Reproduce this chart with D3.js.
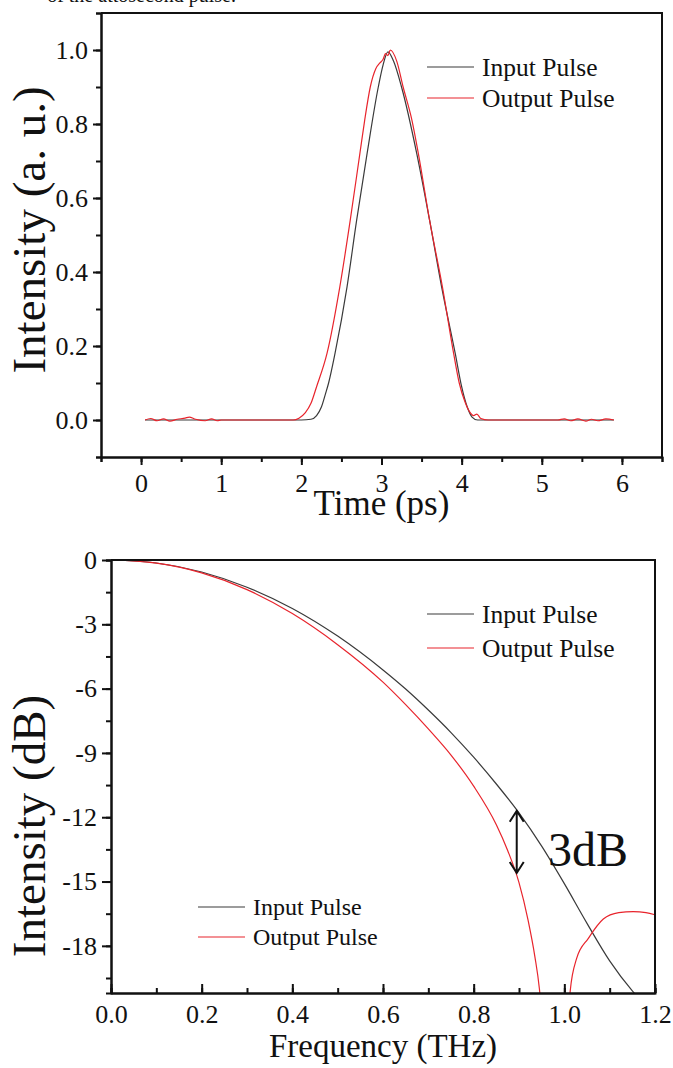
<!DOCTYPE html>
<html>
<head>
<meta charset="utf-8">
<script src="https://cdn.jsdelivr.net/npm/d3@7"></script>
<style>
  body { margin: 0; background: #fff; }
  svg text { font-family: "Liberation Serif", "Times New Roman", serif; fill: #111; }
</style>
</head>
<body>
<svg id="chart" width="673" height="1068"></svg>
<script>
// ---- top panel: pulses in time ----
const timeIn = [0.05, 1.0, 2.0, 2.12, 2.19, 2.25, 2.30, 2.34, 2.42, 2.57, 2.69, 2.82, 2.96, 3.02, 3.08, 3.15, 3.25, 3.44, 3.60, 3.75, 3.92, 4.0, 4.07, 4.13, 4.2, 5.0, 5.9];
const inputPulse = [0, 0, 0, 0.002, 0.012, 0.035, 0.07, 0.1, 0.18, 0.36, 0.54, 0.72, 0.90, 0.96, 0.995, 0.97, 0.90, 0.72, 0.54, 0.36, 0.18, 0.09, 0.035, 0.008, 0, 0, 0];
const timeOut = [0.05, 0.12, 0.2, 0.28, 0.36, 0.45, 0.55, 0.6, 0.68, 0.8, 0.88, 0.95, 1.0, 1.9, 1.97, 2.05, 2.12, 2.19, 2.32, 2.48, 2.61, 2.73, 2.79, 2.86, 2.93, 2.98, 3.02, 3.05, 3.08, 3.11, 3.19, 3.27, 3.38, 3.46, 3.60, 3.76, 3.90, 3.97, 4.04, 4.1, 4.15, 4.19, 4.24, 4.33, 5.2, 5.28, 5.36, 5.45, 5.55, 5.62, 5.7, 5.8, 5.9];
const outputPulse = [0, 0.004, -0.002, 0.003, -0.003, 0.002, 0.005, 0.008, 0.002, -0.002, 0.003, -0.002, 0, 0, 0.005, 0.02, 0.045, 0.09, 0.18, 0.36, 0.54, 0.72, 0.81, 0.90, 0.95, 0.965, 0.975, 0.99, 0.985, 1.0, 0.97, 0.90, 0.81, 0.72, 0.54, 0.36, 0.18, 0.1, 0.05, 0.022, 0.012, 0.016, 0.004, 0, 0, 0.003, -0.002, 0.003, -0.003, 0.002, -0.002, 0.003, 0];
const timeTicks = [0, 1, 2, 3, 4, 5, 6];
const intensityTicks = [0, 0.2, 0.4, 0.6, 0.8, 1.0];

// ---- bottom panel: spectra in dB ----
const freqIn = [0, 0.1, 0.2, 0.3, 0.4, 0.5, 0.6, 0.65, 0.7, 0.75, 0.8, 0.85, 0.9, 0.95, 1.0, 1.05, 1.1, 1.15, 1.2];
const inputDb = [0, -0.14, -0.56, -1.27, -2.26, -3.55, -5.13, -6.02, -7.0, -8.05, -9.2, -10.45, -11.8, -13.35, -15.1, -16.95, -18.7, -20.1, -21.2];
const freqOut = [0, 0.1, 0.2, 0.3, 0.4, 0.5, 0.6, 0.65, 0.7, 0.75, 0.8, 0.85, 0.875, 0.9, 0.92, 0.935, 0.945, 0.952, null, 1.005, 1.013, 1.027, 1.053, 1.086, 1.12, 1.152, 1.18, 1.2];
const outputDb = [0, -0.15, -0.6, -1.38, -2.5, -3.95, -5.7, -6.75, -7.88, -9.1, -10.55, -12.35, -13.55, -15.05, -16.8, -18.5, -20.0, -21.7, null, -23, -20.1, -18.6, -17.65, -16.75, -16.45, -16.4, -16.45, -16.55];
const freqTicks = [0, 0.2, 0.4, 0.6, 0.8, 1.0, 1.2];
const dbTicks = [0, -3, -6, -9, -12, -15, -18];
const arrowDb = [-11.7, -14.6];   // the 3 dB gap at 0.895 THz
const arrowFreq = 0.895;

const legendLabels = ['Input Pulse', 'Output Pulse'];
const colors = ['#3a3a3a', '#e8242c'];
const serif = '"Liberation Serif", "Times New Roman", serif';

const svg = d3.select('#chart');

// clipped caption line from the page above the figure
svg.append('text').attr('x', 236).attr('y', 2).attr('text-anchor', 'end')
  .attr('font-size', 20).text('of the attosecond pulse.');

function drawFrame(x, y) {
  const [x0, x1] = x.range(), [y0, y1] = y.range();
  svg.append('path')
    .attr('d', `M${x0},${y1}H${x1}V${y0}`)
    .attr('fill', 'none').attr('stroke', '#111').attr('stroke-width', 2);
}

function legend(x0, y0, gap, size) {
  legendLabels.forEach((lab, i) => {
    svg.append('line')
      .attr('x1', x0).attr('x2', x0 + 47)
      .attr('y1', y0 + i * gap).attr('y2', y0 + i * gap)
      .attr('stroke', colors[i]).attr('stroke-width', 1.2);
    svg.append('text')
      .attr('x', x0 + 55).attr('y', y0 + i * gap + size * 0.34)
      .attr('font-size', size).text(lab);
  });
}

function styleAxis(g) {
  g.attr('font-family', null);
  g.select('.domain').attr('stroke', '#111').attr('stroke-width', 2);
  g.selectAll('.tick line').attr('stroke', '#111').attr('stroke-width', 2);
  g.selectAll('text').style('font-family', serif).style('font-size', '26px').attr('fill', '#111');
}

const fmtPlain = d => String(d);   // keep ASCII hyphen like the original

// ================= top panel =================
const xT = d3.scaleLinear().domain([-0.5, 6.5]).range([101, 662]);
const yT = d3.scaleLinear().domain([-0.1, 1.1]).range([457, 13]);

drawFrame(xT, yT);

svg.append('g').attr('transform', `translate(0,${yT.range()[0]})`)
  .call(d3.axisBottom(xT).tickValues(d3.range(-0.5, 6.51, 0.5)).tickSize(5).tickFormat(''))
  .call(styleAxis);
svg.append('g').attr('transform', `translate(0,${yT.range()[0]})`)
  .call(d3.axisBottom(xT).tickValues(timeTicks).tickSizeInner(8).tickSizeOuter(0).tickPadding(9).tickFormat(fmtPlain))
  .call(styleAxis);

svg.append('g').attr('transform', `translate(${xT.range()[0]},0)`)
  .call(d3.axisLeft(yT).tickValues(d3.range(-0.1, 1.11, 0.1)).tickSize(5).tickFormat(''))
  .call(styleAxis);
svg.append('g').attr('transform', `translate(${xT.range()[0]},0)`)
  .call(d3.axisLeft(yT).tickValues(intensityTicks).tickSizeInner(8).tickSizeOuter(0).tickPadding(5).tickFormat(d3.format('.1f')))
  .call(styleAxis);

const lineT = d3.line().curve(d3.curveMonotoneX).x(d => xT(d[0])).y(d => yT(d[1]));
svg.append('path').datum(d3.zip(timeIn, inputPulse))
  .attr('d', lineT).attr('fill', 'none').attr('stroke', colors[0]).attr('stroke-width', 1.2);
svg.append('path').datum(d3.zip(timeOut, outputPulse))
  .attr('d', lineT).attr('fill', 'none').attr('stroke', colors[1]).attr('stroke-width', 1.2);

svg.append('text').attr('x', (xT.range()[0] + xT.range()[1]) / 2).attr('y', 515)
  .attr('text-anchor', 'middle').attr('font-size', 35).text('Time (ps)');
svg.append('text').attr('transform', `translate(45,230) rotate(-90)`)
  .attr('text-anchor', 'middle').attr('font-size', 47).text('Intensity (a. u.)');

legend(427, 67, 31, 25.5);

// ================= bottom panel =================
const xB = d3.scaleLinear().domain([0, 1.2]).range([111, 655]);
const yB = d3.scaleLinear().domain([-20.2, 0]).range([993, 560]);

svg.append('defs').append('clipPath').attr('id', 'clipB')
  .append('rect').attr('x', xB.range()[0]).attr('y', yB.range()[1])
  .attr('width', xB.range()[1] - xB.range()[0]).attr('height', yB.range()[0] - yB.range()[1]);

const lineB = d3.line().curve(d3.curveMonotoneX)
  .defined(d => d[0] !== null)
  .x(d => xB(d[0])).y(d => yB(d[1]));
svg.append('path').datum(d3.zip(freqIn, inputDb)).attr('clip-path', 'url(#clipB)')
  .attr('d', lineB).attr('fill', 'none').attr('stroke', colors[0]).attr('stroke-width', 1.2);
svg.append('path').datum(d3.zip(freqOut, outputDb)).attr('clip-path', 'url(#clipB)')
  .attr('d', lineB).attr('fill', 'none').attr('stroke', colors[1]).attr('stroke-width', 1.2);

drawFrame(xB, yB);

svg.append('g').attr('transform', `translate(0,${yB.range()[0]})`)
  .call(d3.axisBottom(xB).tickValues(d3.range(0, 1.21, 0.1)).tickSize(-5).tickFormat(''))
  .call(styleAxis);
svg.append('g').attr('transform', `translate(0,${yB.range()[0]})`)
  .call(d3.axisBottom(xB).tickValues(freqTicks).tickSizeInner(-9).tickSizeOuter(0).tickPadding(12).tickFormat(d3.format('.1f')))
  .call(styleAxis);

svg.append('g').attr('transform', `translate(${xB.range()[0]},0)`)
  .call(d3.axisLeft(yB).tickValues(d3.range(0, -20.1, -1.5)).tickSize(5).tickFormat(''))
  .call(styleAxis);
svg.append('g').attr('transform', `translate(${xB.range()[0]},0)`)
  .call(d3.axisLeft(yB).tickValues(dbTicks).tickSizeInner(9).tickSizeOuter(0).tickPadding(5).tickFormat(fmtPlain))
  .call(styleAxis);

svg.append('text').attr('x', (xB.range()[0] + xB.range()[1]) / 2).attr('y', 1057)
  .attr('text-anchor', 'middle').attr('font-size', 33).text('Frequency (THz)');
svg.append('text').attr('transform', `translate(45,826) rotate(-90)`)
  .attr('text-anchor', 'middle').attr('font-size', 47).text('Intensity (dB)');

legend(427, 614, 34, 25.5);
legend(198, 907, 30, 24);

// 3 dB double arrow
const ax = xB(arrowFreq), ay1 = yB(arrowDb[0]), ay2 = yB(arrowDb[1]);
svg.append('path')
  .attr('d', `M${ax},${ay1}V${ay2}M${ax - 7},${ay1 + 11}L${ax},${ay1}L${ax + 7},${ay1 + 11}M${ax - 7},${ay2 - 11}L${ax},${ay2}L${ax + 7},${ay2 - 11}`)
  .attr('fill', 'none').attr('stroke', '#111').attr('stroke-width', 2);
svg.append('text').attr('x', 548).attr('y', 866).attr('font-size', 48).text('3dB');
</script>
</body>
</html>
